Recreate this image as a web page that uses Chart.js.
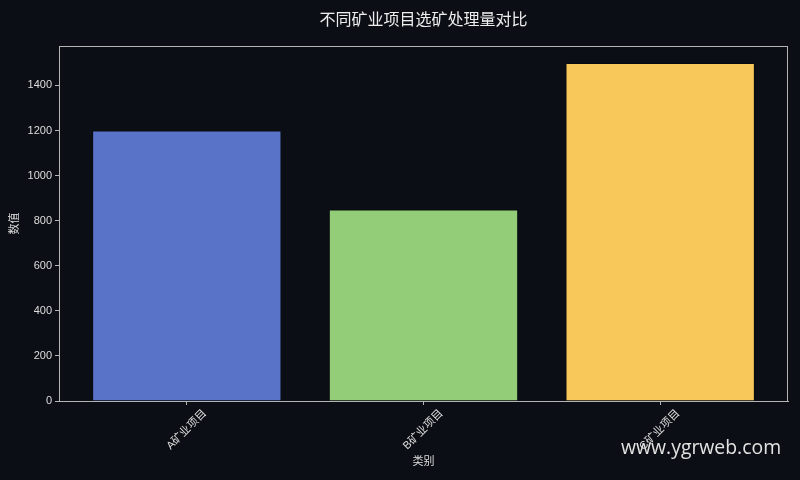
<!DOCTYPE html>
<html>
<head>
<meta charset="utf-8">
<script src="https://cdn.jsdelivr.net/npm/chart.js@4/dist/chart.umd.min.js"></script>
<style>
  html, body { margin: 0; padding: 0; background: #0b0e14; }
  #wrap { position: relative; width: 800px; height: 480px; }
  #mark {
    position: absolute; left: 621px; top: 433px;
    font: 19.4px "Open Sans", "Noto Sans", sans-serif; color: #e2e2e2;
  }
</style>
</head>
<body>
<div id="wrap">
  <canvas id="chart" width="800" height="480"></canvas>
  <div id="mark">www.ygrweb.com</div>
</div>
<script>
const chartTitle = '不同矿业项目选矿处理量对比';
const categories = ['A矿业项目', 'B矿业项目', 'C矿业项目'];
const values = [1200, 850, 1500];
const barColors = ['#5873c8', '#93cd77', '#f9c85b'];
const yTicks = [0, 200, 400, 600, 800, 1000, 1200, 1400];

const fontFamily = '"Liberation Sans", "Noto Sans CJK SC", sans-serif';

// matplotlib-like frame and centered title
const framePlugin = {
  id: 'frame',
  afterDraw(chart) {
    const { ctx, chartArea: a } = chart;
    ctx.save();
    ctx.strokeStyle = '#b4b4b4';
    ctx.lineWidth = 1;
    ctx.strokeRect(a.left + 0.5, a.top + 0.5, a.right - a.left - 1, a.bottom - a.top);
    ctx.fillStyle = '#eeeeee';
    ctx.font = '16px "Noto Sans CJK SC", sans-serif';
    ctx.textAlign = 'center';
    ctx.textBaseline = 'middle';
    ctx.fillText(chartTitle, (a.left + a.right) / 2, 19);
    ctx.restore();
  }
};

new Chart(document.getElementById('chart'), {
  type: 'bar',
  data: {
    datasets: [{
      data: values.map((v, i) => ({ x: i, y: v })),
      backgroundColor: barColors,
      borderColor: 'rgba(0,0,0,0.25)',
      borderWidth: 1,
      barPercentage: 0.8,
      categoryPercentage: 1
    }]
  },
  options: {
    responsive: false,
    animation: false,
    layout: { padding: { top: 46, right: 12, left: 0, bottom: 0 } },
    plugins: { legend: { display: false }, tooltip: { enabled: false } },
    scales: {
      x: {
        type: 'linear',
        offset: false,
        min: -0.54,
        max: 2.54,
        afterBuildTicks: s => { s.ticks = categories.map((c, i) => ({ value: i })); },
        afterFit: s => { s.height = 79; },
        grid: { display: true, offset: false, drawOnChartArea: false, tickLength: 4, color: '#b4b4b4' },
        border: { color: '#b4b4b4' },
        ticks: {
          color: '#dddddd',
          font: { family: fontFamily, size: 11 },
          minRotation: 45,
          maxRotation: 45,
          labelOffset: 18,
          padding: 2,
          callback: v => categories[v]
        },
        title: {
          display: true, text: '类别', color: '#dddddd',
          font: { family: fontFamily, size: 11 },
          padding: { top: 4, bottom: 11 }
        }
      },
      y: {
        min: 0,
        max: 1575,
        afterBuildTicks: s => { s.ticks = yTicks.map(v => ({ value: v })); },
        afterFit: s => { s.width = 59; },
        grid: { display: true, drawOnChartArea: false, tickLength: 4, color: '#b4b4b4' },
        border: { color: '#b4b4b4' },
        ticks: {
          color: '#dddddd',
          font: { family: fontFamily, size: 11 },
          padding: 3,
          callback: v => String(v)
        },
        title: {
          display: true, text: '数值', color: '#dddddd',
          font: { family: fontFamily, size: 11 },
          padding: { top: 8, bottom: 4 }
        }
      }
    }
  },
  plugins: [framePlugin]
});
</script>
</body>
</html>
